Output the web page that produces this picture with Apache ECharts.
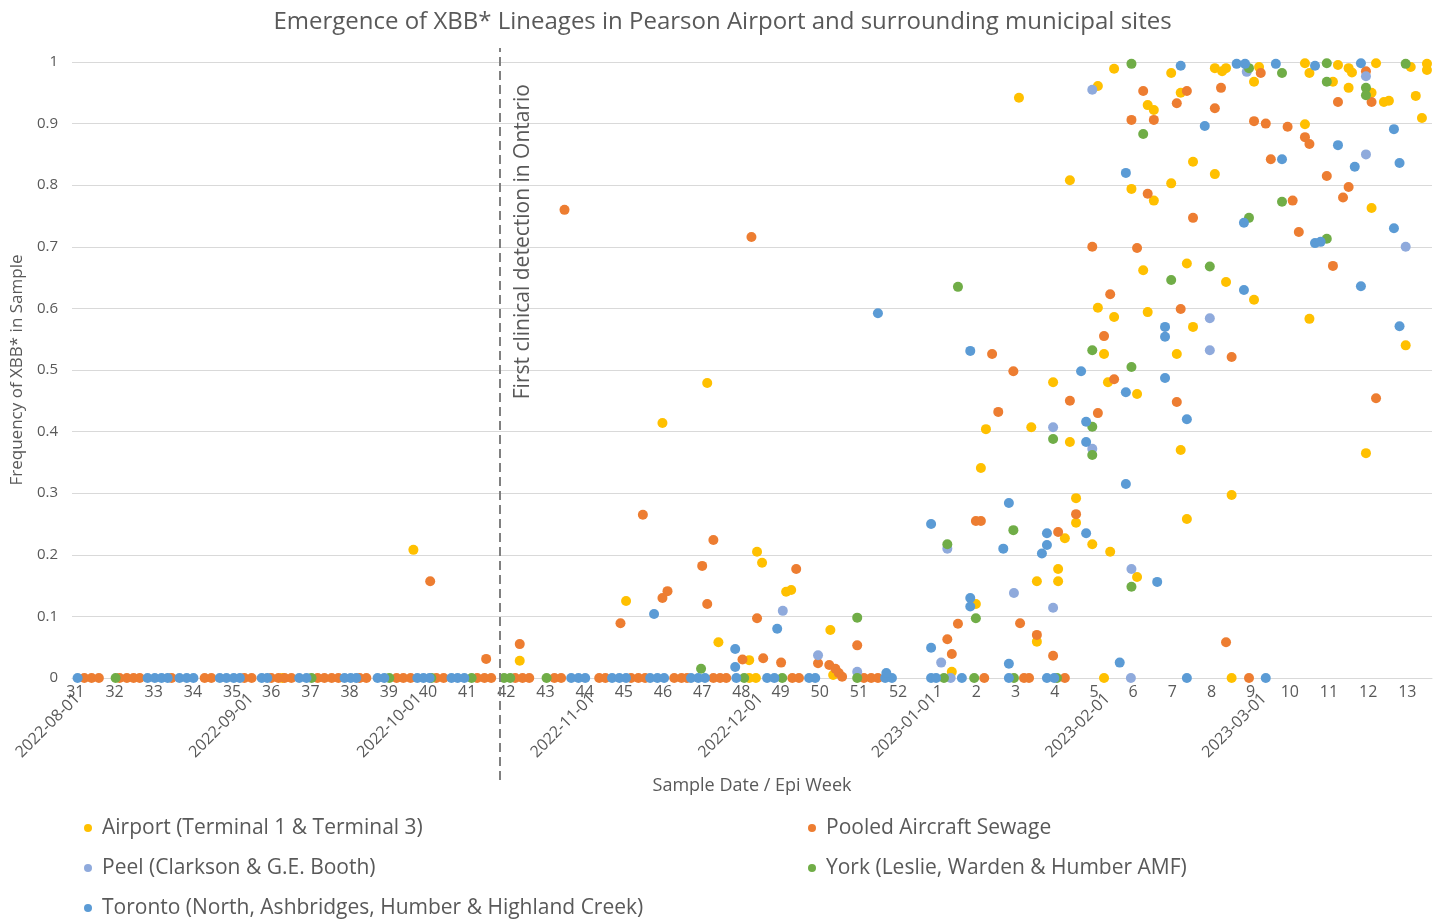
<!DOCTYPE html>
<html><head><meta charset="utf-8">
<script src="https://cdn.jsdelivr.net/npm/echarts@6/dist/echarts.min.js"></script>
<style>html,body{margin:0;padding:0;background:#fff}#c{width:1445px;height:921px}</style>
</head><body><div id="c"></div><script>
// x values are days since 2022-08-01 (sample date); y values are XBB* frequency
const FONT = 'Open Sans';
const TXT = '#595959';

const seriesNames = [
  'Airport (Terminal 1 & Terminal 3)',
  'Pooled Aircraft Sewage',
  'Peel (Clarkson & G.E. Booth)',
  'York (Leslie, Warden & Humber AMF)',
  'Toronto (North, Ashbridges, Humber & Highland Creek)'
];
const seriesColors = ['#FFC000', '#ED7D31', '#8FAADC', '#70AD47', '#5B9BD5'];

const weekLabels = ['31','32','33','34','35','36','37','38','39','40','41','42','43','44','45','46','47','48','49','50','51','52',
  '1','2','3','4','5','6','7','8','9','10','11','12','13'];
const firstWeekStart = '2022-07-31';
const monthLabels = ['2022-08-01','2022-09-01','2022-10-01','2022-11-01','2022-12-01','2023-01-01','2023-02-01','2023-03-01'];
const firstDetectionDay = 75.4;
const xMinDay = -1, xMaxDay = 242;

const airport = [
 [36.6,0],[60,0.208],[79,0.028],[98,0.125],[104.5,0.414],[112.5,0.479],[114.5,0.058],[120,0],[120,0.029],[121.2,0],
 [121.4,0.205],[122.3,0.187],[126.6,0.14],[127.5,0.143],[134.5,0.078],[135,0.005],[156.2,0.01],[160.5,0.12],
 [161.4,0.341],[162.3,0.404],[168.2,0.942],[170.4,0.407],[171.4,0.157],[171.4,0.059],[174.3,0.48],[175.2,0.177],
 [175.2,0.157],[176.4,0.227],[177.3,0.383],[177.3,0.808],[178.4,0.292],[178.4,0.252],[181.3,0.217],[182.3,0.961],
 [182.3,0.601],[183.4,0.526],[183.4,0],[184.1,0.48],[184.5,0.205],[185.2,0.989],[185.2,0.586],[188.3,0.794],
 [189.3,0.461],[189.3,0.164],[190.4,0.662],[191.2,0.93],[191.2,0.594],[192.3,0.922],[192.3,0.775],[195.4,0.982],
 [195.4,0.803],[196.4,0.526],[197.1,0.95],[197.1,0.37],[198.2,0.673],[198.2,0.258],[199.3,0.838],[199.3,0.57],
 [203.2,0.99],[203.2,0.818],[204.5,0.985],[205.2,0.99],[205.2,0.643],[206.2,0.297],[206.2,0],[210.2,0.968],
 [210.2,0.614],[211.1,0.992],[219.3,0.998],[219.3,0.899],[220.1,0.982],[220.1,0.583],[224.3,0.968],[225.2,0.995],
 [227.1,0.99],[227.1,0.958],[227.7,0.983],[230.2,0.365],[231.2,0.95],[231.2,0.763],[232,0.998],[233.4,0.935],
 [234.3,0.937],[237.3,0.54],[238.2,0.992],[239.1,0.945],[240.2,0.909],[241.1,0.997],[241.1,0.987]
];

const pooled = [
 [1.2,0],[2.5,0],[3.8,0],[7.5,0],[8.8,0],[10,0],[11.1,0],[16.8,0],[22.7,0],[23.9,0],[29.8,0],[31.1,0],[34.6,0],
 [35.9,0],[37,0],[38.2,0],[42.9,0],[44.1,0],[45.4,0],[46.6,0],[50.4,0],[51.6,0],[57,0],[58.2,0],[59.5,0],[64.1,0],
 [65.4,0],[71.4,0],[72.7,0],[73.9,0],[78.2,0],[79.5,0],[80.7,0],[85.2,0],[86.4,0],[93.2,0],[94.3,0],[98.9,0],
 [100.2,0],[101.4,0],[106.6,0],[107.9,0],[108.9,0],[113.6,0],[114.8,0],[115.9,0],[127.7,0],[128.9,0],[140.5,0],
 [141.8,0],[143,0],[162,0],[169.1,0],[170,0],[176.4,0],[209.3,0],
 [63,0.157],[73,0.031],[79,0.055],[87,0.76],[97,0.089],[101,0.265],[104.5,0.13],[105.4,0.141],[111.6,0.182],
 [112.5,0.12],[113.6,0.224],[118.8,0.03],[120.4,0.716],[121.4,0.097],[122.5,0.032],[125.7,0.025],[128.4,0.177],
 [132.3,0.024],[134.3,0.021],[135.4,0.015],[136,0.008],[136.6,0.002],[139.3,0.053],[155.4,0.063],[156.2,0.039],
 [157.3,0.088],[160.5,0.255],[161.4,0.255],[163.4,0.526],[164.5,0.432],[167.2,0.498],[168.4,0.089],[171.4,0.07],
 [174.3,0.036],[175.2,0.237],[177.3,0.45],[178.4,0.266],[181.3,0.7],[182.3,0.43],[183.4,0.555],[184.5,0.623],
 [185.2,0.485],[188.3,0.906],[189.3,0.698],[190.4,0.953],[191.2,0.786],[192.3,0.906],[196.4,0.933],[196.4,0.448],
 [197.1,0.599],[198.2,0.953],[199.3,0.747],[203.2,0.925],[204.3,0.958],[205.2,0.058],[206.2,0.521],[210.2,0.904],
 [211.4,0.982],[212.3,0.9],[213.2,0.842],[216.2,0.895],[217.1,0.775],[218.2,0.724],[219.3,0.878],[220.1,0.867],
 [223.2,0.815],[224.3,0.669],[225.2,0.935],[226.1,0.78],[227.1,0.797],[230.2,0.985],[231.2,0.935],[232,0.454]
];

const peel = [
 [126,0.109],[132.3,0.037],[139.3,0.01],[154.3,0.025],[155.4,0.21],[156,0],[167.3,0.138],[174.3,0.407],
 [174.3,0.114],[181.3,0.372],[181.3,0.955],[188.3,0.177],[188.2,0],[202.3,0.584],[202.3,0.532],[208.9,0.984],
 [230.2,0.977],[230.2,0.85],[237.3,0.7]
];

const york = [
 [6.8,0],[41.8,0],[55.7,0],[63.2,0],[70.4,0],[76.2,0],[77.3,0],[83.8,0],[119.1,0],[125.9,0],[139.3,0],[154.8,0],
 [160.2,0],[167.3,0],[175,0],
 [111.4,0.015],[139.3,0.098],[155.4,0.217],[157.3,0.635],[160.5,0.097],[167.2,0.24],[174.3,0.388],[181.3,0.532],
 [181.3,0.408],[181.3,0.362],[188.3,0.505],[188.3,0.148],[188.3,0.997],[190.4,0.883],[195.4,0.646],[202.3,0.668],
 [209.3,0.99],[209.3,0.747],[215.2,0.982],[215.2,0.773],[223.2,0.998],[223.2,0.968],[223.2,0.713],[230.2,0.958],
 [230.2,0.946],[237.3,0.997]
];

const toronto = [
 [0,0],[12.5,0],[13.8,0],[15,0],[16.1,0],[18.2,0],[19.5,0],[20.7,0],[25.4,0],[26.6,0],[27.9,0],[29,0],[32.9,0],
 [33.9,0],[39.6,0],[40.9,0],[47.7,0],[48.8,0],[49.8,0],[53.6,0],[54.8,0],[60.7,0],[61.8,0],[62.9,0],[66.8,0],
 [67.9,0],[69.1,0],[88.2,0],[89.5,0],[90.7,0],[95.5,0],[96.8,0],[98,0],[102.3,0],[103.6,0],[104.8,0],[109.6,0],
 [110.9,0],[112.1,0],[117.7,0],[123.2,0],[124.5,0],[130.7,0],[131.8,0],[144.3,0],[145.5,0],[152.5,0],[153.4,0],
 [158,0],[166.4,0],[173.2,0],[174.5,0],[198.2,0],[212.3,0],
 [103,0.104],[117.5,0.047],[117.5,0.018],[125,0.08],[143,0.592],[144.5,0.008],[152.5,0.049],[152.5,0.25],
 [159.5,0.531],[159.5,0.13],[159.5,0.116],[165.4,0.21],[166.4,0.284],[166.4,0.023],[172.3,0.202],[173.2,0.216],
 [173.2,0.235],[179.3,0.498],[180.2,0.416],[180.2,0.383],[180.2,0.235],[186.2,0.025],[187.3,0.82],[187.3,0.464],
 [187.3,0.315],[192.9,0.156],[194.3,0.57],[194.3,0.554],[194.3,0.487],[197.1,0.994],[198.2,0.42],[201.4,0.896],
 [207.1,0.997],[208.6,0.997],[208.4,0.739],[208.4,0.63],[214.1,0.997],[215.2,0.842],[221.1,0.994],[221.1,0.706],
 [222.1,0.708],[225.2,0.865],[228.2,0.83],[229.3,0.998],[229.3,0.636],[235.2,0.891],[235.2,0.73],[236.2,0.836],
 [236.2,0.571]
];

const allData = [airport, pooled, peel, york, toronto];

function dayOf(s) {
  const p = s.split('-').map(Number);
  return (Date.UTC(p[0], p[1]-1, p[2]) - Date.UTC(2022, 7, 1)) / 86400000;
}
const weekPos = weekLabels.map((w, i) => dayOf(firstWeekStart) + 7 * i + 0.6);
const monthPos = monthLabels.map(dayOf);
const weekMap = {}; weekPos.forEach((p, i) => weekMap[p.toFixed(2)] = weekLabels[i]);
const monthMap = {}; monthPos.forEach((p, i) => monthMap[p.toFixed(2)] = monthLabels[i]);

// legend layout: two columns, three rows
const legendSlots = [
  {left: 84, top: 815}, {left: 808, top: 815},
  {left: 84, top: 855}, {left: 808, top: 855},
  {left: 84, top: 895}
];

const chart = echarts.init(document.getElementById('c'), null, {renderer: 'canvas'});
chart.setOption({
  animation: false,
  backgroundColor: '#fff',
  textStyle: {fontFamily: FONT},
  title: {
    text: 'Emergence of XBB* Lineages in Pearson Airport and surrounding municipal sites',
    left: 'center', top: 5,
    textStyle: {fontFamily: FONT, fontSize: 24, fontWeight: 'normal', color: TXT}
  },
  legend: seriesNames.map((n, i) => ({
    data: [n], left: legendSlots[i].left, top: legendSlots[i].top, padding: 0,
    icon: 'circle', itemWidth: 8, itemHeight: 8, selectedMode: false,
    textStyle: {fontFamily: FONT, fontSize: 21, color: TXT, lineHeight: 26, padding: [0,0,0,5]}
  })),
  grid: [
    {left: 72, right: 13, top: 62, bottom: 243},
    {left: 72, right: 13, top: 48, bottom: 141}
  ],
  xAxis: [
    {
      type: 'value', gridIndex: 0, min: xMinDay, max: xMaxDay, position: 'bottom',
      axisLine: {show: true, lineStyle: {color: '#d9d9d9', width: 1}},
      axisTick: {show: false}, splitLine: {show: false},
      axisLabel: {
        customValues: weekPos, interval: 0, margin: 6,
        fontFamily: FONT, fontSize: 16, color: TXT,
        formatter: v => weekMap[v.toFixed(2)] || ''
      },
      name: 'Sample Date / Epi Week', nameLocation: 'middle', nameGap: 99,
      nameTextStyle: {fontFamily: FONT, fontSize: 18, color: TXT}
    },
    {
      type: 'value', gridIndex: 0, min: xMinDay, max: xMaxDay, position: 'bottom', offset: 0,
      axisLine: {show: false}, axisTick: {show: false}, splitLine: {show: false},
      axisLabel: {
        customValues: monthPos, interval: 0, margin: 18, rotate: 45,
        fontFamily: FONT, fontSize: 16, color: TXT,
        formatter: v => monthMap[v.toFixed(2)] || ''
      }
    },
    {type: 'value', gridIndex: 1, min: xMinDay, max: xMaxDay, show: false}
  ],
  yAxis: [
    {
      type: 'value', gridIndex: 0, min: 0, max: 1, interval: 0.1,
      axisLine: {show: false}, axisTick: {show: false},
      splitLine: {lineStyle: {color: '#d9d9d9', width: 1}},
      axisLabel: {margin: 14, fontFamily: FONT, fontSize: 15, color: TXT,
        formatter: v => String(Math.round(v * 10) / 10)},
      name: 'Frequency of XBB* in Sample', nameLocation: 'middle', nameGap: 45,
      nameTextStyle: {fontFamily: FONT, fontSize: 17, color: TXT}
    },
    {type: 'value', gridIndex: 1, min: 0, max: 1, show: false}
  ],
  series: allData.map((d, i) => ({
    name: seriesNames[i], type: 'scatter', xAxisIndex: 0, yAxisIndex: 0,
    data: d, symbolSize: 10, itemStyle: {color: seriesColors[i], opacity: 1},
    emphasis: {disabled: true}
  })).concat([{
    type: 'scatter', xAxisIndex: 2, yAxisIndex: 1, data: [], silent: true,
    markLine: {
      silent: true, symbol: ['none', 'none'], animation: false,
      lineStyle: {type: [9, 5], color: '#808080', width: 2},
      label: {
        show: true, position: 'insideEndBottom', distance: [36, 13],
        formatter: 'First clinical detection in Ontario',
        fontFamily: FONT, fontSize: 21, color: TXT
      },
      emphasis: {disabled: true},
      data: [{xAxis: firstDetectionDay}]
    }
  }])
});
</script></body></html>
